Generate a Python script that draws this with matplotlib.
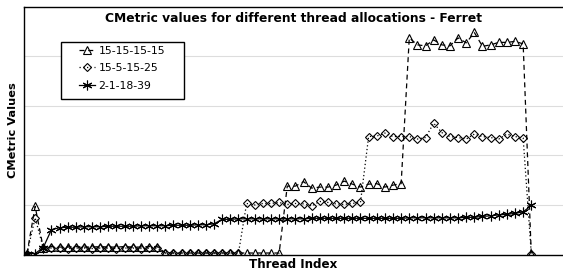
import numpy as np
import matplotlib
matplotlib.use("Agg")
import matplotlib.pyplot as plt
from matplotlib.patches import Rectangle

# thread index 0..62 (63 threads per configuration)
threads = np.arange(63)

labels = ["15-15-15-15", "15-5-15-25", "2-1-18-39"]

cm_15_15_15_15 = [0.02, 0.97, 0.13,
                  0.16, 0.15, 0.15, 0.16, 0.15, 0.15, 0.16, 0.15, 0.15, 0.16, 0.15, 0.15, 0.16, 0.16,
                  0.03, 0.03, 0.03, 0.03, 0.03, 0.03, 0.03, 0.03, 0.03, 0.03, 0.03, 0.03, 0.03, 0.03, 0.03,
                  1.38, 1.38, 1.47, 1.34, 1.36, 1.36, 1.40, 1.48, 1.42, 1.36, 1.42, 1.43, 1.36, 1.40, 1.43,
                  4.37, 4.23, 4.21, 4.33, 4.23, 4.21, 4.37, 4.27, 4.48, 4.20, 4.23, 4.28, 4.28, 4.30, 4.25,
                  0.02]

cm_15_5_15_25 = [0.02, 0.74, 0.13,
                 0.13, 0.13, 0.12, 0.13, 0.13, 0.12, 0.13, 0.13, 0.12, 0.13, 0.13, 0.12, 0.13, 0.13,
                 0.03, 0.03, 0.03, 0.03, 0.03, 0.03, 0.03, 0.03, 0.03, 0.03,
                 1.03, 1.00, 1.03, 1.03, 1.05, 1.01, 1.03, 1.02, 0.98, 1.07, 1.05, 1.02, 1.01, 1.03, 1.05,
                 2.38, 2.39, 2.45, 2.38, 2.38, 2.38, 2.33, 2.36, 2.65, 2.46, 2.38, 2.36, 2.33, 2.43,
                 2.38, 2.36, 2.33, 2.43, 2.38, 2.35,
                 0.02]

cm_2_1_18_39 = [0.02, 0.02, 0.14, 0.50,
                0.54, 0.55, 0.55, 0.56, 0.56, 0.56, 0.57, 0.57, 0.57, 0.57, 0.58, 0.58, 0.58, 0.58,
                0.59, 0.59, 0.59, 0.60, 0.60,
                0.62,
                0.71, 0.71, 0.72, 0.72, 0.72, 0.72, 0.72, 0.72, 0.72, 0.72, 0.72, 0.73, 0.73, 0.73,
                0.73, 0.73, 0.73, 0.73, 0.73, 0.73, 0.73, 0.73, 0.73, 0.74, 0.74, 0.74, 0.74, 0.74,
                0.74, 0.74, 0.75,
                0.75, 0.77, 0.78, 0.80, 0.81, 0.83, 0.86,
                0.99]

W, H = 563, 274
ax_l, ax_b, ax_w, ax_h = 24, 19.5, 539, 247.8
ax_top = H - ax_b - ax_h

fig = plt.figure(figsize=(W / 100, H / 100), dpi=100)
ax = fig.add_axes([ax_l / W, ax_b / H, ax_w / W, ax_h / H])

ax.plot(threads, cm_15_15_15_15, color="black", lw=0.9, linestyle=(0, (4, 3)),
        marker="^", ms=6, mfc="none", mec="black", mew=0.8, label=labels[0])
ax.plot(threads, cm_15_5_15_25, color="black", lw=0.9, linestyle=(0, (1, 2)),
        marker="D", ms=4.5, mfc="none", mec="black", mew=0.8, label=labels[1])
ax.plot(threads, cm_2_1_18_39, color="black", lw=0.9, linestyle="-",
        marker=(6, 2, 0), ms=7, mec="black", mew=0.8, label=labels[2])

ax.set_xlim(-0.37, 65.9)
ax.set_ylim(0, 5)
ax.set_yticks([1, 2, 3, 4])
ax.set_xticks([])
ax.tick_params(axis="y", length=0, labelleft=False)
ax.grid(axis="y", color="#dddddd", lw=0.8)
ax.set_axisbelow(True)
ax.spines["right"].set_visible(False)
for s in ["left", "bottom", "top"]:
    ax.spines[s].set_color("black")
    ax.spines[s].set_linewidth(1.0)

ax.text(0.5, 1 - 11.6 / ax_h, "CMetric values for different thread allocations - Ferret",
        transform=ax.transAxes, ha="center", va="center", fontsize=8.8, fontweight="bold")
ax.set_ylabel("CMetric Values", fontsize=8.2, fontweight="bold", labelpad=4)
ax.set_xlabel("Thread Index", fontsize=8.6, fontweight="bold", labelpad=2.5)

# legend box drawn by hand (wide side padding as in the original)
def px_to_ax(x, y):
    return (x - ax_l) / ax_w, 1 - (y - ax_top) / ax_h

x0, y0 = px_to_ax(61, 99)
x1, y1 = px_to_ax(184, 42)
ax.add_patch(Rectangle((x0, y0), x1 - x0, y1 - y0, transform=ax.transAxes,
                       facecolor="white", edgecolor="black", lw=1.0, zorder=4))

lx, ly = px_to_ax(79, 45.5)
leg = ax.legend(loc="upper left", bbox_to_anchor=(lx, ly), fontsize=7.8, frameon=False,
                handlelength=1.5, borderpad=0, labelspacing=0.7, handletextpad=0.3,
                borderaxespad=0)
leg.set_zorder(5)

fig.savefig("out.png", dpi=100)
